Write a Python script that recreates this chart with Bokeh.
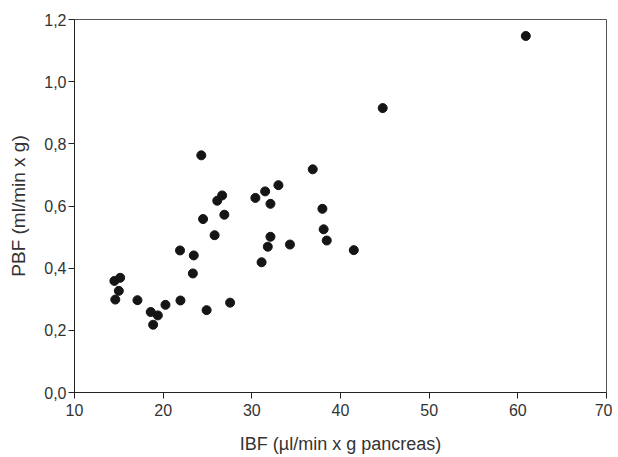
from bokeh.plotting import figure
from bokeh.models import FixedTicker, CustomJSTickFormatter, Range1d
from bokeh.embed import file_html
from bokeh.resources import INLINE

ibf = [14.5, 15.15, 15.0, 14.6, 17.1, 18.6, 19.4, 18.87, 20.26, 21.95, 21.9, 23.35,
       23.45, 24.3, 24.5, 24.9, 25.8, 26.1, 26.65, 26.9, 27.55, 30.4, 31.1, 31.5,
       31.8, 32.1, 32.1, 33.0, 34.3, 36.87, 37.96, 38.1, 38.45, 41.5, 44.76, 60.9]
pbf = [0.359, 0.369, 0.327, 0.299, 0.297, 0.259, 0.248, 0.218, 0.282, 0.296, 0.457, 0.383,
       0.441, 0.763, 0.558, 0.265, 0.506, 0.617, 0.634, 0.572, 0.289, 0.626, 0.419, 0.647,
       0.469, 0.501, 0.607, 0.667, 0.476, 0.718, 0.591, 0.525, 0.489, 0.458, 0.915, 1.147]
x_ticks = [10, 20, 30, 40, 50, 60, 70]
y_ticks = [0.0, 0.2, 0.4, 0.6, 0.8, 1.0, 1.2]

p = figure(width=612, height=457, output_backend="svg", toolbar_location=None,
           x_range=Range1d(10, 70), y_range=Range1d(0, 1.2),
           min_border_left=74, min_border_right=6, min_border_top=19, min_border_bottom=65)
p.grid.visible = False
p.outline_line_color = "#555555"
p.outline_line_width = 1

p.scatter(ibf, pbf, size=9, color="#151515")

font = "Liberation Sans"
for ax in (p.xaxis[0], p.yaxis[0]):
    ax.axis_line_color = "#222222"
    ax.major_tick_line_color = "#222222"
    ax.major_tick_out = 6
    ax.major_tick_in = 0
    ax.minor_tick_line_color = None
    ax.major_label_text_font = font
    ax.major_label_text_font_size = "16px"
    ax.major_label_text_color = "#333333"
    ax.axis_label_text_font = font
    ax.axis_label_text_font_style = "normal"
    ax.axis_label_text_color = "#333333"

p.xaxis.axis_label_text_font_size = "18px"
p.yaxis.axis_label_text_font_size = "19px"
p.xaxis.ticker = FixedTicker(ticks=x_ticks)
p.yaxis.ticker = FixedTicker(ticks=y_ticks)
p.yaxis.formatter = CustomJSTickFormatter(code="return tick.toFixed(1).replace('.', ',');")
p.xaxis.axis_label = "IBF (\u00b5l/min x g pancreas)"
p.yaxis.axis_label = "PBF (ml/min x g)"
p.xaxis.major_label_standoff = 5
p.xaxis.axis_label_standoff = 15
p.yaxis.major_label_standoff = 2
p.yaxis.axis_label_standoff = 12

open("out.html", "w").write(file_html(p, INLINE))
